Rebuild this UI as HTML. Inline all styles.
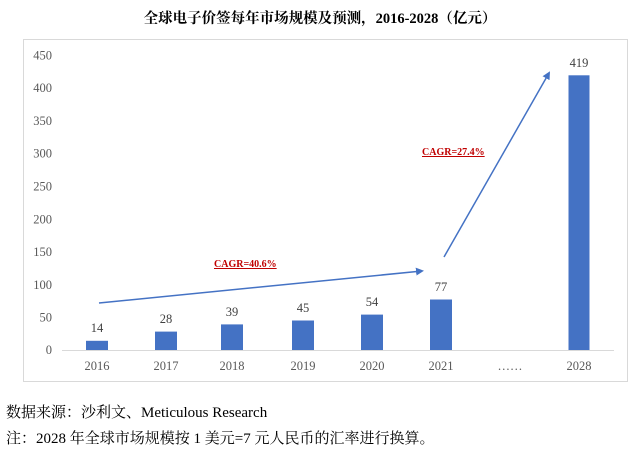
<!DOCTYPE html>
<html><head><meta charset="utf-8"><style>
html,body{margin:0;padding:0;background:#fff;width:640px;height:460px;overflow:hidden}
svg{display:block}
</style></head><body>
<svg width="640" height="460" xmlns="http://www.w3.org/2000/svg">
<defs><marker id="ah" markerWidth="8" markerHeight="8" refX="6" refY="4" orient="auto" markerUnits="userSpaceOnUse"><path d="M0,0 L8,4 L0,8 z" fill="#4472C4"/></marker></defs>
<text x="320" y="23" text-anchor="middle" font-family="'Liberation Serif','Noto Serif CJK SC',serif" font-size="14.5" font-weight="bold" fill="#000">全球电子价签每年市场规模及预测，2016-2028（亿元）</text>
<rect x="23.5" y="39.5" width="604" height="342" fill="#fff" stroke="#d9d9d9" stroke-width="1"/>
<g font-family="'Liberation Serif',serif" font-size="12.5" fill="#595959" text-anchor="end">
<text x="52" y="354">0</text><text x="52" y="321.6">50</text><text x="52" y="288.8">100</text><text x="52" y="256">150</text><text x="52" y="223.3">200</text><text x="52" y="190.5">250</text><text x="52" y="157.7">300</text><text x="52" y="124.9">350</text><text x="52" y="92.2">400</text><text x="52" y="59.4">450</text>
</g>
<line x1="62" y1="350.5" x2="614" y2="350.5" stroke="#d9d9d9"/>
<g fill="#4472C4">
<rect x="86" y="340.8" width="22" height="9.2"/>
<rect x="155" y="331.6" width="22" height="18.4"/>
<rect x="221" y="324.4" width="22" height="25.6"/>
<rect x="292" y="320.5" width="22" height="29.5"/>
<rect x="361" y="314.6" width="22" height="35.4"/>
<rect x="430" y="299.5" width="22" height="50.5"/>
<rect x="568.5" y="75.3" width="21" height="274.7"/>
</g>
<g font-family="'Liberation Serif',serif" font-size="12.5" fill="#404040" text-anchor="middle">
<text x="97" y="332">14</text><text x="166" y="323">28</text><text x="232" y="316">39</text><text x="303" y="312">45</text><text x="372" y="306">54</text><text x="441" y="291">77</text><text x="579" y="67">419</text>
</g>
<g font-family="'Liberation Serif',serif" font-size="12.5" fill="#595959" text-anchor="middle">
<text x="97" y="370">2016</text><text x="166" y="370">2017</text><text x="232" y="370">2018</text><text x="303" y="370">2019</text><text x="372" y="370">2020</text><text x="441" y="370">2021</text><text x="510" y="370">……</text><text x="579" y="370">2028</text>
</g>
<line x1="99" y1="303" x2="422" y2="271" stroke="#4472C4" stroke-width="1.5" marker-end="url(#ah)"/>
<line x1="444" y1="257" x2="549" y2="73" stroke="#4472C4" stroke-width="1.5" marker-end="url(#ah)"/>
<g font-family="'Liberation Serif',serif" font-size="10" font-weight="bold" fill="#C00000" text-decoration="underline">
<text x="214" y="267">CAGR=40.6%</text>
<text x="422" y="155">CAGR=27.4%</text>
</g>
<g font-family="'Liberation Serif','Noto Serif CJK SC',serif" font-size="15" fill="#000">
<text x="6" y="417">数据来源：沙利文、Meticulous Research</text>
<text x="6" y="443">注：2028 年全球市场规模按 1 美元=7 元人民币的汇率进行换算。</text>
</g>
</svg>
</body></html>
